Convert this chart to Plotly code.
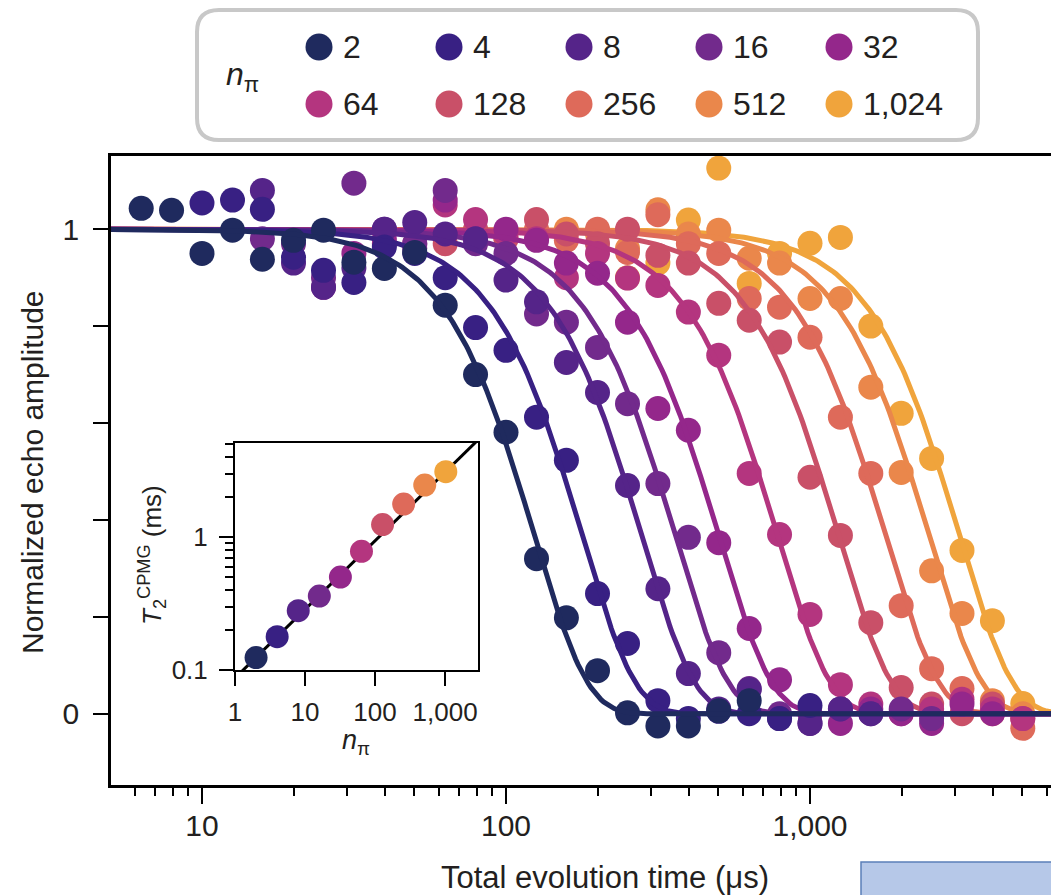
import numpy as np
import plotly.graph_objects as go

# ---------------- data ----------------
N_PI = [2, 4, 8, 16, 32, 64, 128, 256, 512, 1024]
N_LABELS = ["2", "4", "8", "16", "32", "64", "128", "256", "512", "1,024"]
COLORS = ["#1f2a5e", "#382083", "#552489", "#722a8c", "#94278b",
          "#b4357f", "#c95068", "#de6a5a", "#ea874b", "#f0a43c"]

# total evolution time grid (µs)
T_GRID_US = [6.31, 7.94, 10.0, 12.6, 15.8, 20.0, 25.1, 31.6, 39.8, 50.1,
             63.1, 79.4, 100, 126, 158, 200, 251, 316, 398, 501,
             631, 794, 1000, 1259, 1585, 1995, 2512, 3162, 3981, 5012]

# index of first grid time for each series
START_IDX = [0, 2, 4, 4, 6, 8, 10, 12, 14, 16]

ECHO_2 = [1.043, 1.039, 0.950, 0.998, 0.938, 0.977, 0.998, 0.932, 0.919, 0.952, 0.843,
          0.700, 0.581, 0.320, 0.198, 0.089, 0.002, -0.025, -0.025, 0.006, 0.027]
ECHO_4 = [1.054, 1.060, 1.041, 0.942, 0.915, 0.890, 0.963, 0.950, 0.900, 0.797, 0.750,
          0.612, 0.523, 0.248, 0.145, 0.027, -0.010, 0.005, 0.000, -0.010, 0.017]
ECHO_8 = [1.080, 0.930, 0.880, 0.920, 1.000, 1.014, 0.990, 0.980, 0.895, 0.850, 0.725,
          0.663, 0.471, 0.258, 0.083, 0.010, 0.050, -0.010, -0.020, 0.010, 0.000]
ECHO_16 = [0.980, 0.970, 0.900, 1.095, 1.000, 0.970, 1.080, 0.970, 0.950, 0.825, 0.808,
           0.756, 0.640, 0.475, 0.364, 0.126, 0.052, 0.000, -0.020, 0.010, 0.000, 0.010, -0.010]
ECHO_32 = [0.880, 0.950, 0.980, 0.960, 1.060, 0.980, 1.000, 0.977, 0.930, 0.909, 0.808,
           0.630, 0.585, 0.353, 0.176, 0.070, 0.000, -0.020, 0.010, 0.000, -0.020, 0.020, 0.000]
ECHO_64 = [0.970, 0.970, 1.050, 1.020, 0.990, 0.980, 0.900, 0.950, 0.899, 0.884, 0.829,
           0.740, 0.496, 0.370, 0.205, 0.060, 0.020, 0.000, 0.010, 0.030, 0.010, -0.010]
ECHO_128 = [0.970, 1.000, 0.980, 1.020, 0.990, 0.970, 1.000, 0.946, 0.930, 0.847, 0.812,
            0.767, 0.488, 0.368, 0.188, 0.054, 0.020, 0.000, 0.020, -0.010]
ECHO_256 = [0.980, 1.000, 0.977, 1.000, 0.952, 1.030, 0.970, 0.950, 0.857, 0.839, 0.777,
            0.612, 0.496, 0.223, 0.093, 0.052, 0.000, -0.030]
ECHO_512 = [1.000, 0.990, 0.960, 1.040, 0.990, 0.998, 0.940, 0.930, 0.857, 0.857, 0.674,
            0.498, 0.295, 0.207, 0.027, 0.000]
ECHO_1024 = [0.900, 0.930, 1.019, 1.126, 0.888, 0.950, 0.971, 0.983, 0.800, 0.620, 0.527,
             0.337, 0.192, 0.021]
ECHOES = [ECHO_2, ECHO_4, ECHO_8, ECHO_16, ECHO_32, ECHO_64, ECHO_128, ECHO_256, ECHO_512, ECHO_1024]

# fitted coherence times (ms), shown in the inset
T2_MS = [0.124, 0.178, 0.279, 0.360, 0.500, 0.780, 1.240, 1.770, 2.460, 3.100]
STRETCH = 2.5           # exponent of the fitted decay exp(-(t/T2)^p)
INSET_FIT_A = 0.087     # T2 = A * n^gamma (ms)
INSET_FIT_GAMMA = 0.516

INK = "#231f20"
FONT = "Liberation Sans, Arial, sans-serif"

# ---------------- geometry (page has an 8px body margin) ----------------
PAGE_OFF = 8
W, H = 1059, 887
ML, MR, MT, MB = 103, 0, 0, 110
PW, PH = W - ML - MR, H - MT - MB
X_DECADE_PX = 304.0   # pixels per decade on the main time axis
X10_SCREEN = 202.0    # screen x of the 10 µs tick


def px_x(px):
    """screen x pixel -> paper x"""
    return (px - PAGE_OFF - ML) / PW


def px_y(py):
    """screen y pixel -> paper y"""
    return (H - MB - (py - PAGE_OFF)) / PH


x_lo = 1 + (PAGE_OFF + ML - X10_SCREEN) / X_DECADE_PX
x_hi = x_lo + PW / X_DECADE_PX

fig = go.Figure()

# main data: draw high n first so low n sits on top
t_fit = np.logspace(0.6, 3.95, 400)
for i in reversed(range(len(N_PI))):
    s = START_IDX[i]
    ys = ECHOES[i]
    ts = T_GRID_US[s:s + len(ys)]
    fig.add_trace(go.Scatter(x=ts, y=ys, mode="markers",
                             marker=dict(size=25, color=COLORS[i], line=dict(width=0)),
                             showlegend=False, xaxis="x", yaxis="y"))
    y_fit = np.exp(-(t_fit / (T2_MS[i] * 1000.0)) ** STRETCH)
    fig.add_trace(go.Scatter(x=t_fit, y=y_fit, mode="lines",
                             line=dict(color=COLORS[i], width=5),
                             showlegend=False, xaxis="x", yaxis="y"))

# inset
n_fit = np.logspace(0, 3.5, 50)
fig.add_trace(go.Scatter(x=n_fit, y=INSET_FIT_A * n_fit ** INSET_FIT_GAMMA, mode="lines",
                         line=dict(color="black", width=3), showlegend=False,
                         xaxis="x2", yaxis="y2"))
fig.add_trace(go.Scatter(x=N_PI, y=T2_MS, mode="markers",
                         marker=dict(size=23, color=COLORS, line=dict(width=0)),
                         showlegend=False, xaxis="x2", yaxis="y2"))

# legend as a small grid of markers
leg_col = [i % 5 for i in range(len(N_PI))]
leg_row = [1 - i // 5 for i in range(len(N_PI))]
fig.add_trace(go.Scatter(x=leg_col, y=leg_row, mode="markers",
                         marker=dict(size=27, color=COLORS, line=dict(width=0)),
                         showlegend=False, xaxis="x3", yaxis="y3", hoverinfo="skip"))

annotations = []
for i, lab in enumerate(N_LABELS):
    annotations.append(dict(x=leg_col[i], y=leg_row[i], xref="x3", yref="y3",
                            text=lab, showarrow=False, xanchor="left", yanchor="middle",
                            xshift=22, font=dict(size=32, color=INK, family=FONT)))


def note(x, y, text, size, angle=0):
    return dict(x=px_x(x), y=px_y(y), xref="paper", yref="paper", text=text,
                showarrow=False, xanchor="center", yanchor="middle", textangle=angle,
                font=dict(size=size, color=INK, family=FONT))


annotations += [
    note(242, 76, "<i>n</i><sub>π</sub>", 32),
    note(605, 877, "Total evolution time (μs)", 31),
    note(32, 472, "Normalized echo amplitude", 30, -90),
    note(356, 742, "<i>n</i><sub>π</sub>", 27),
    note(152, 555, "<i>T</i><sub>2</sub><sup>CPMG</sup> (ms)", 26, -90),
]

# rounded legend frame
x0, x1 = px_x(197), px_x(978)
y0, y1 = px_y(140), px_y(10)
rx, ry = 22 / PW, 22 / PH
path = (f"M {x0+rx},{y0} L {x1-rx},{y0} Q {x1},{y0} {x1},{y0+ry} "
        f"L {x1},{y1-ry} Q {x1},{y1} {x1-rx},{y1} L {x0+rx},{y1} "
        f"Q {x0},{y1} {x0},{y1-ry} L {x0},{y0+ry} Q {x0},{y0} {x0+rx},{y0} Z")
shapes = [
    dict(type="path", path=path, xref="paper", yref="paper",
         line=dict(color="#c8c8c8", width=4), fillcolor="white", layer="below"),
    # edge of a neighbouring panel's label box, cut off in the bottom-right corner
    dict(type="rect", xref="paper", yref="paper",
         x0=px_x(861), x1=px_x(1075), y0=px_y(905), y1=px_y(862),
         line=dict(color="#5b7fb8", width=1.5), fillcolor="#b6c8e8", layer="above"),
]

# legend axis: rows at screen y 47 (row 1) and 104 (row 0); columns at 319 + 130*i
leg_dom = [px_y(140), 1.0]
dom_px = (leg_dom[1] - leg_dom[0]) * PH
f1 = (140 - 47) / dom_px
f0 = (140 - 104) / dom_px
span_y = 1.0 / (f1 - f0)
leg_yrange = [-f0 * span_y, -f0 * span_y + span_y]
fx0 = px_x(319)
fx4 = px_x(839)
span_x = 4.0 / (fx4 - fx0)
leg_xrange = [-fx0 * span_x, -fx0 * span_x + span_x]

minor_main = [5, 6, 7, 8, 9, 20, 30, 40, 50, 60, 70, 80, 90,
              200, 300, 400, 500, 600, 700, 800, 900, 2000, 3000, 4000, 5000, 6000, 7000]

fig.update_layout(
    width=W, height=H,
    margin=dict(l=ML, r=MR, t=MT, b=MB),
    paper_bgcolor="white", plot_bgcolor="white",
    font=dict(family=FONT, color=INK),
    annotations=annotations, shapes=shapes,
    xaxis=dict(type="log", range=[x_lo, x_hi], domain=[0, 1],
               anchor="y", showgrid=False, zeroline=False,
               showline=True, linecolor="black", linewidth=2.5, mirror=True,
               ticks="outside", ticklen=16, tickwidth=2, tickcolor="black",
               tickvals=[10, 100, 1000], ticktext=["10", "100", "1,000"],
               tickfont=dict(size=30, color=INK, family=FONT), ticklabelstandoff=-4,
               minor=dict(ticks="outside", ticklen=8, tickwidth=2, tickcolor="black",
                          tickvals=minor_main, showgrid=False)),
    yaxis=dict(range=[-0.147, 1.151], domain=[0, px_y(156)], anchor="x",
               showgrid=False, zeroline=False,
               showline=True, linecolor="black", linewidth=2.5, mirror=False,
               ticks="outside", ticklen=15, tickwidth=2, tickcolor="black",
               tickvals=[0, 0.2, 0.4, 0.6, 0.8, 1.0], ticktext=["0", "", "", "", "", "1"],
               tickfont=dict(size=30, color=INK, family=FONT), ticklabelstandoff=8),
    xaxis2=dict(type="log", range=[0, 3.47], domain=[px_x(235), px_x(478)], anchor="y2",
                showgrid=False, zeroline=False,
                showline=True, linecolor="black", linewidth=2, mirror=True,
                ticks="outside", ticklen=14, tickwidth=2, tickcolor="black",
                tickvals=[1, 10, 100, 1000], ticktext=["1", "10", "100", "1,000"],
                tickfont=dict(size=26, color=INK, family=FONT), ticklabelstandoff=4),
    yaxis2=dict(type="log", range=[-1, 0.707], domain=[px_y(670), px_y(443)], anchor="x2",
                showgrid=False, zeroline=False,
                showline=True, linecolor="black", linewidth=2, mirror=True,
                ticks="outside", ticklen=14, tickwidth=2, tickcolor="black",
                tickvals=[0.1, 1], ticktext=["0.1", "1"],
                tickfont=dict(size=26, color=INK, family=FONT), ticklabelstandoff=6,
                minor=dict(ticks="outside", ticklen=8, tickwidth=2, tickcolor="black",
                           tickvals=[0.2, 0.3, 0.4, 0.5, 0.6, 0.7, 0.8, 0.9, 2, 3, 4, 5],
                           showgrid=False)),
    xaxis3=dict(domain=[0, 1], range=leg_xrange, visible=False,
                anchor="y3", fixedrange=True),
    yaxis3=dict(domain=leg_dom, range=leg_yrange, visible=False,
                anchor="x3", fixedrange=True),
)

fig.write_html("out.html")
